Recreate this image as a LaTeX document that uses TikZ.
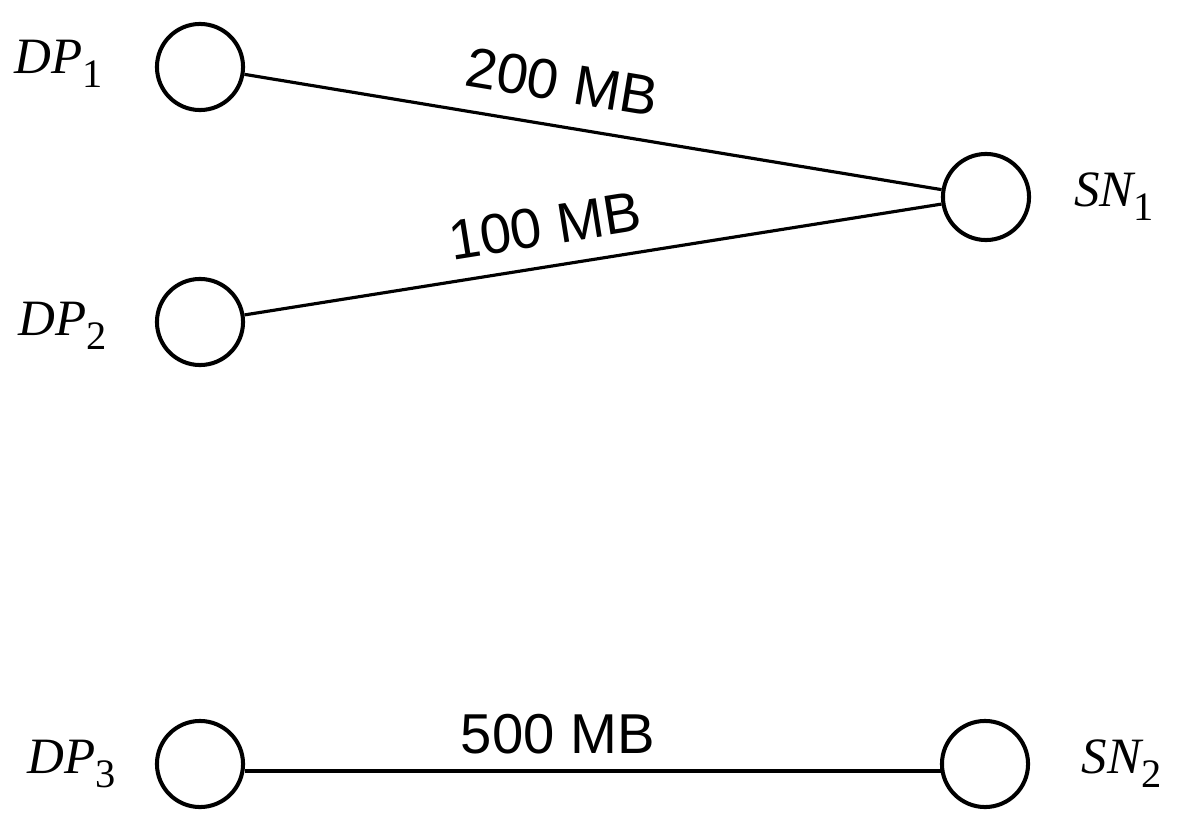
\documentclass[tikz,border=0pt]{standalone}
\usepackage{fontspec}
\setmainfont{Liberation Serif}
\newfontfamily\mbfont{Liberation Sans}
\usetikzlibrary{positioning}
\tikzset{
  site/.style={circle,draw,line width=2.3pt,minimum size=49pt,inner sep=0pt},
  link/.style={line width=1.8pt},
  mblabel/.style={font=\mbfont\fontsize{32}{32}\selectfont,sloped,inner sep=0pt},
  sitename/.style={font=\fontsize{29}{29}\selectfont},
}
\newcommand{\sitelabel}[2]{{\itshape #1}\raisebox{-0.27em}{\fontsize{23}{23}\selectfont #2}}
\begin{document}
\begin{tikzpicture}[x=0.02cm,y=-0.02cm]
\useasboundingbox (0,0) rectangle (1189,834);
\node[site] (DP1) at (200,67) {};
\node[site] (DP2) at (200,322) {};
\node[site] (SN1) at (986,197) {};
\node[site] (DP3) at (200,764) {};
\node[site] (SN2) at (985,764) {};
\node[sitename,left=26pt of DP1,yshift=2pt] (DP1lab) {\sitelabel{DP}{1}};
\node[sitename,left=24pt of DP2,yshift=-2pt] (DP2lab) {\sitelabel{DP}{2}};
\node[sitename,left=19pt of DP3] (DP3lab) {\sitelabel{DP}{3}};
\node[sitename,right=21pt of SN1] (SN1lab) {\sitelabel{SN}{1}};
\node[sitename,right=26pt of SN2] (SN2lab) {\sitelabel{SN}{2}};
\draw[link] (DP1) -- node[mblabel,pos=.445,above=13pt] {200 MB} (SN1);
\draw[link] (DP2) -- node[mblabel,pos=.44,above=11pt] {100 MB} (SN1);
\draw[link] (DP3.-9) -- node[mblabel,pos=.45,above=9pt] {500 MB} (SN2.189);
\end{tikzpicture}
\end{document}
